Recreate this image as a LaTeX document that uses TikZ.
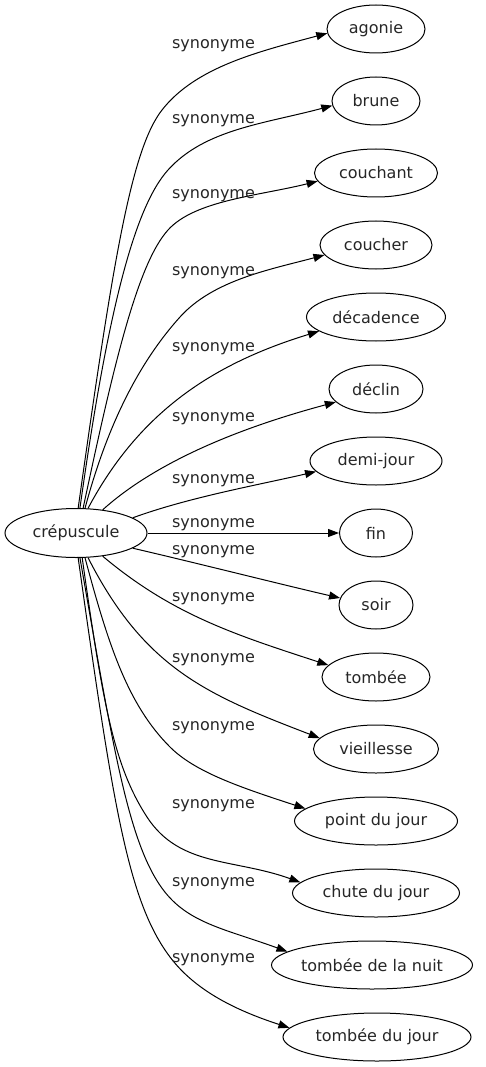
\documentclass[tikz,border=0pt]{standalone}
\usepackage{fontspec}
\setmainfont{DejaVu Sans}
\usetikzlibrary{shapes.geometric,arrows.meta}
\tikzset{
  nd/.style={draw, ellipse, inner sep=0pt, minimum height=48pt, line width=1pt,
    font=\fontsize{16pt}{19pt}\selectfont, text=black!85},
  lbl/.style={anchor=base, inner sep=0pt, font=\fontsize{16pt}{19pt}\selectfont, text=black!85},
  syn/.style={line width=1pt, -{Triangle[length=11pt,width=8pt]}}
}
\begin{document}
\begin{tikzpicture}[x=1pt,y=1pt]
\useasboundingbox (0,0) rectangle (486,-1067);
\node[nd, minimum width=142pt, minimum height=49pt] (s) at (76,-533) {crépuscule};
\node[nd, minimum width=98pt]  (t1)  at (376,-29)  {agonie};
\node[nd, minimum width=88pt]  (t2)  at (376,-101) {brune};
\node[nd, minimum width=123pt] (t3)  at (376,-173) {couchant};
\node[nd, minimum width=112pt] (t4)  at (376,-245) {coucher};
\node[nd, minimum width=139pt] (t5)  at (376,-317) {décadence};
\node[nd, minimum width=94pt]  (t6)  at (376,-389) {déclin};
\node[nd, minimum width=132pt] (t7)  at (376,-461) {demi-jour};
\node[nd, minimum width=73pt]  (t8)  at (376,-533) {fin};
\node[nd, minimum width=74pt]  (t9)  at (376,-605) {soir};
\node[nd, minimum width=108pt] (t10) at (376,-677) {tombée};
\node[nd, minimum width=125pt] (t11) at (376,-749) {vieillesse};
\node[nd, minimum width=163pt] (t12) at (376,-821) {point du jour};
\node[nd, minimum width=167pt] (t13) at (376,-893) {chute du jour};
\node[nd, minimum width=201pt] (t14) at (372,-965) {tombée de la nuit};
\node[nd, minimum width=188pt] (t15) at (377,-1037) {tombée du jour};

% upper edges
\draw[syn] (s.85) .. controls +(82:250) and +(232:50) .. (162,-110)
                  .. controls +(52:55) and +(195:70) .. (t1.185);
\draw[syn] (s.81) .. controls +(82:200) and +(228:50) .. (168,-170)
                  .. controls +(48:55) and +(195:70) .. (t2.186);
\draw[syn] (s.74) .. controls +(78:150) and +(228:45) .. (168,-230)
                  .. controls +(48:40) and +(194:60) .. (t3.188);
\draw[syn] (s.70) .. controls +(75:100) and +(228:50) .. (180,-317)
                  .. controls +(48:50) and +(195:55) .. (t4.191);
\draw[syn] (s.64) .. controls +(62:110) and +(197:110) .. (t5.194);
\draw[syn] (s.41) .. controls +(42:60) and +(195:120) .. (t6.198);
\draw[syn] (s.15) .. controls +(20:60) and +(193:60) .. (t7.190);
% middle
\draw[syn] (s) -- (t8);
% lower edges
\draw[syn] (s.-15) .. controls +(-13:60) and +(167:60) .. (t9.169.5);
\draw[syn] (s.-41) .. controls +(-40:90) and +(162:100) .. (t10.166);
\draw[syn] (s.-64) .. controls +(-63:125) and +(159:120) .. (t11.169);
\draw[syn] (s.-70) .. controls +(-75:90) and +(135:60) .. (170,-747)
                   .. controls +(-45:35) and +(162:70) .. (t12.170);
\draw[syn] (s.-76) .. controls +(-82:150) and +(123:60) .. (147,-817)
                   .. controls +(-57:60) and +(160:70) .. (t13.172);
\draw[syn] (s.-81) .. controls +(-80:200) and +(135:60) .. (172,-900)
                   .. controls +(-45:35) and +(160:60) .. (t14.171.5);
\draw[syn] (s.-85) .. controls +(-82:250) and +(127:70) .. (170,-957)
                   .. controls +(-53:40) and +(162:60) .. (t15.174);

\node[lbl] (l1)  at (213.5,-49)  {synonyme};
\node[lbl] (l2)  at (213.5,-124) {synonyme};
\node[lbl] (l3)  at (213.5,-199) {synonyme};
\node[lbl] (l4)  at (213.5,-275) {synonyme};
\node[lbl] (l5)  at (213.5,-351) {synonyme};
\node[lbl] (l6)  at (213.5,-421) {synonyme};
\node[lbl] (l7)  at (213.5,-483) {synonyme};
\node[lbl] (l8)  at (213.5,-527) {synonyme};
\node[lbl] (l9)  at (213.5,-554) {synonyme};
\node[lbl] (l10) at (213.5,-601) {synonyme};
\node[lbl] (l11) at (213.5,-662) {synonyme};
\node[lbl] (l12) at (213.5,-730) {synonyme};
\node[lbl] (l13) at (213.5,-808) {synonyme};
\node[lbl] (l14) at (213.5,-886) {synonyme};
\node[lbl] (l15) at (213.5,-962) {synonyme};
\end{tikzpicture}
\end{document}
